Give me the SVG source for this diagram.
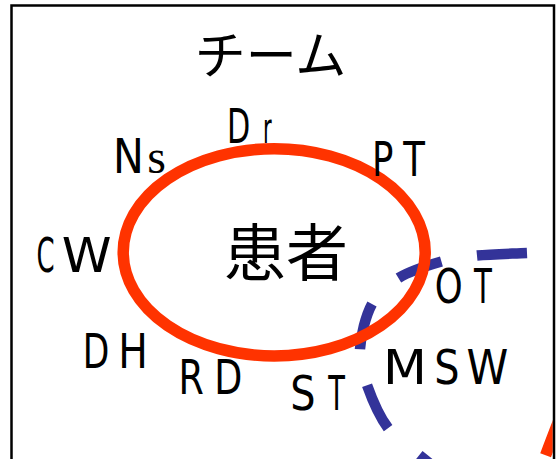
<svg xmlns="http://www.w3.org/2000/svg" width="556" height="459" viewBox="0 0 556 459">
  <defs>
    <style>
      .lbl { font-family: "DejaVu Sans", sans-serif; font-size: 48px; text-anchor: middle; fill: #000; }
      .ser { font-family: "Liberation Serif", serif; font-size: 48px; text-anchor: middle; fill: #000; }
      .cjk { font-family: "Noto Sans CJK JP", sans-serif; text-anchor: middle; fill: #000; }
      .red { fill: none; stroke: #FF3300; stroke-width: 11.5; }
      .blue { fill: none; stroke: #333399; stroke-width: 10.5; stroke-dasharray: 50.1 36.1 46.2 37.5 47.1 36.9 48 41.3 200; }
    </style>
    <clipPath id="inner">
      <rect x="12.75" y="6.75" width="540" height="460"/>
    </clipPath>
  </defs>
  <rect x="0" y="0" width="556" height="459" fill="#fff"/>

  <g id="other-team">
    <path class="blue" d="M527,253 C510.33,253.75 491.25,254.08 477,255.5 C462.75,256.92 454.58,257.75 441.5,261.5 C428.42,265.25 410.08,270.92 398.5,278 C386.92,285.08 378.42,292.17 372,304 C365.58,315.83 360.83,335.5 360,349 C359.17,362.5 362.33,371.83 367,385 C371.67,398.17 379.33,416.33 388,428 C396.67,439.67 408.67,446.67 419,455 C429.33,463.33 439,471.33 450,478"/>
  </g>

  <g id="red-arc" clip-path="url(#inner)">
    <path class="red" d="M567,400 Q562,412 545.6,455.2"/>
  </g>

  <g id="team">
    <ellipse class="red" cx="274.2" cy="252.3" rx="151" ry="103.6"/>
  </g>

  <g id="title">
    <text class="cjk" x="270.5" y="74" font-size="51">チーム</text>
  </g>

  <g id="patient">
    <text class="cjk" x="286" y="276" font-size="62">患者</text>
  </g>

  <g id="label-Dr">
    <text class="lbl" transform="translate(238.7,143.3) scale(0.63,1)">D</text>
    <text class="lbl" style="font-size:43px" transform="translate(267.4,143.3) scale(0.49,1)">r</text>
  </g>
  <g id="label-Ns">
    <text class="lbl" transform="translate(128.5,172.7) scale(0.86,1)">N</text>
    <text class="ser" transform="translate(156.5,173)">s</text>
  </g>
  <g id="label-CW">
    <text class="lbl" transform="translate(45.5,272) scale(0.54,1)">C</text>
    <text class="lbl" transform="translate(86.7,272) scale(1.05,1)">W</text>
  </g>
  <g id="label-PT">
    <text class="lbl" transform="translate(382.7,176) scale(0.74,1)">P</text>
    <text class="lbl" transform="translate(414,176) scale(0.74,1)">T</text>
  </g>
  <g id="label-OT">
    <text class="lbl" transform="translate(448.7,303) scale(0.74,1)">O</text>
    <text class="lbl" transform="translate(483,303) scale(0.61,1)">T</text>
  </g>
  <g id="label-MSW">
    <text class="lbl" transform="translate(405,384) scale(1.06,1)">M</text>
    <text class="lbl" transform="translate(447,384) scale(0.83,1)">S</text>
    <text class="lbl" transform="translate(487.5,384) scale(0.88,1)">W</text>
  </g>
  <g id="label-DH">
    <text class="lbl" transform="translate(96,368) scale(0.72,1)">D</text>
    <text class="lbl" transform="translate(133,368) scale(0.82,1)">H</text>
  </g>
  <g id="label-RD">
    <text class="lbl" transform="translate(191.1,394) scale(0.76,1)">R</text>
    <text class="lbl" transform="translate(228.4,394) scale(0.76,1)">D</text>
  </g>
  <g id="label-ST">
    <text class="lbl" transform="translate(303,410) scale(0.83,1)">S</text>
    <text class="lbl" transform="translate(336.5,410) scale(0.57,1)">T</text>
  </g>

  <g id="frame">
    <rect x="11.5" y="5.5" width="542.5" height="470" fill="none" stroke="#000" stroke-width="2.5"/>
  </g>
</svg>
